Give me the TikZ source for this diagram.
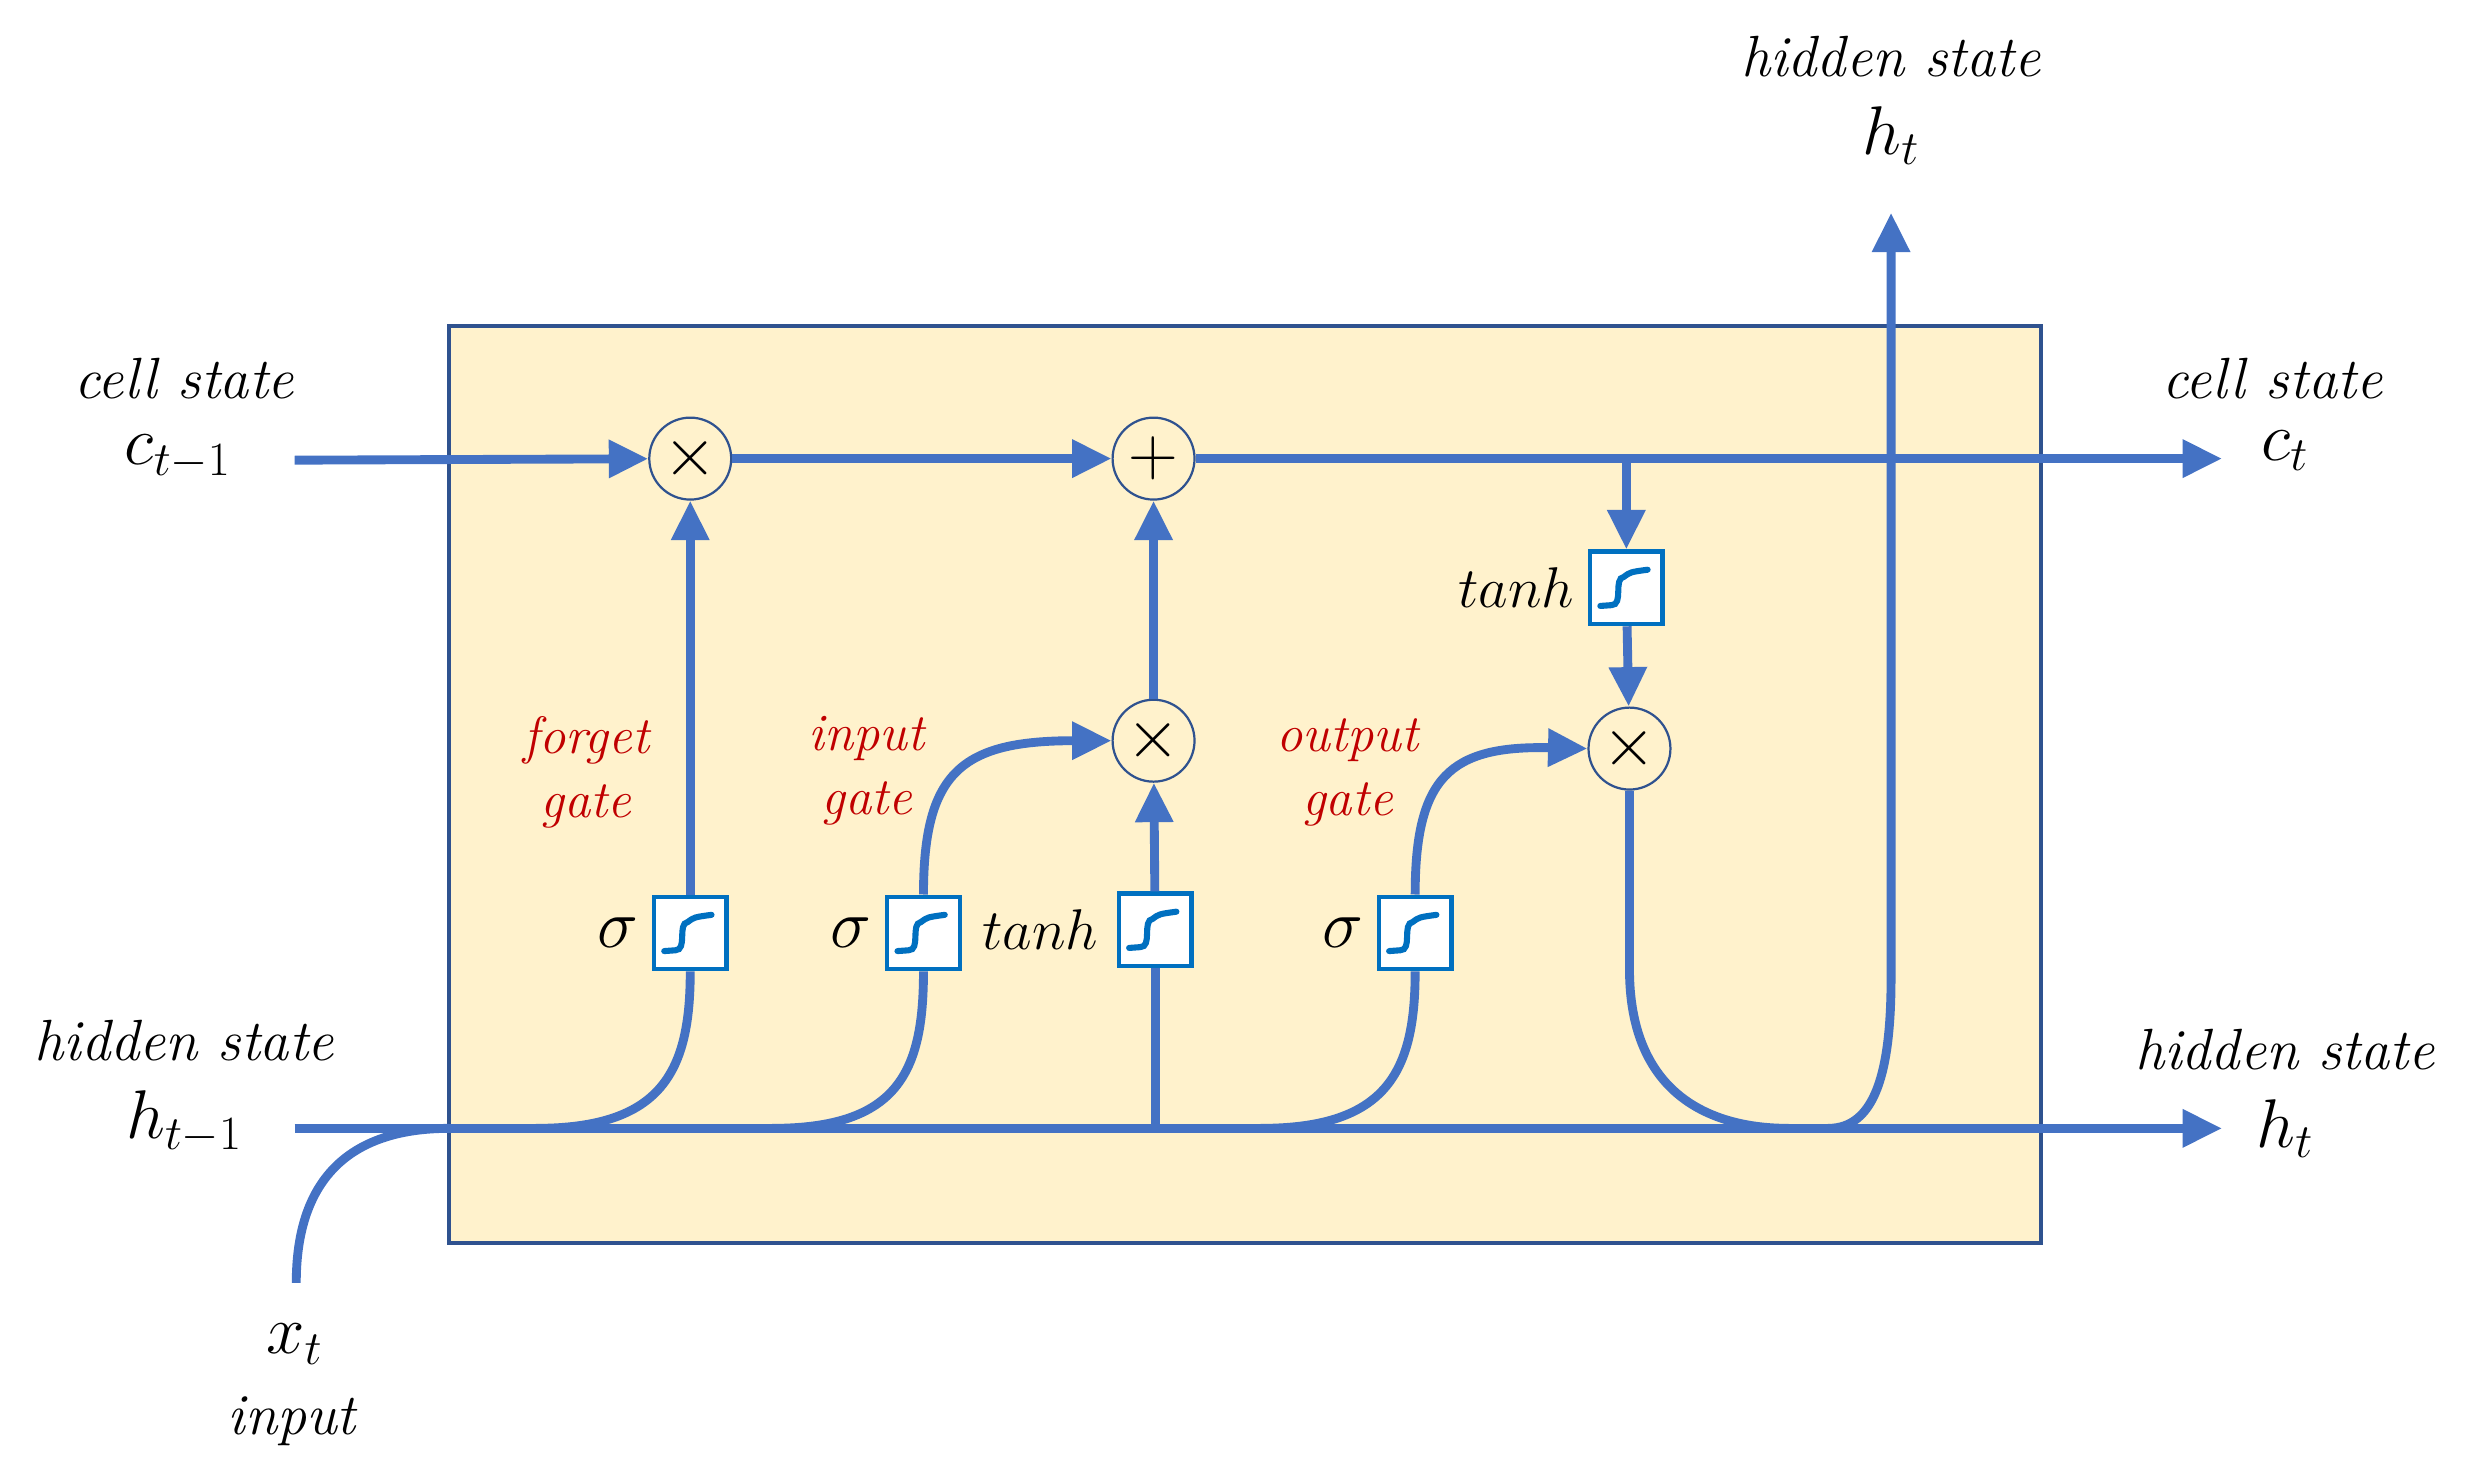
\documentclass[tikz,border=0pt]{standalone}
\usepackage{tikz}
\usetikzlibrary{arrows.meta}
\usetikzlibrary{positioning}
\definecolor{lstm}{RGB}{68,114,196}
\definecolor{cellbg}{RGB}{255,242,204}
\definecolor{cellframe}{RGB}{47,82,143}
\definecolor{actblue}{RGB}{0,112,192}
\definecolor{gatered}{RGB}{192,0,0}
\begin{document}
\begin{tikzpicture}[x={(0.02cm,0)}, y={(0,-0.02cm)},
                every node/.style = {font=\fontsize{20}{24}\selectfont},
                op/.style = {draw=cellframe, thick, circle, fill=cellbg, inner sep = 0mm, minimum size = 10.4mm, font=\fontsize{30}{30}\selectfont},
                act/.style = {draw=actblue, line width=1.6pt, fill=white, minimum size = 9.2mm, inner sep = 0mm,
                    path picture={\draw[actblue, line width=2.2pt, line cap=round]
                        ([xshift=-3.3mm,yshift=-2.3mm]path picture bounding box.center) -- ++(1.4mm,0.1mm)
                        .. controls +(1.6mm,0) and +(-1.4mm,-0.2mm) .. ++(1.6mm,3.6mm)
                        .. controls +(0.8mm,0.6mm) .. ++(3mm,0.9mm);}},
                arr/.style = {draw=lstm, line width=3.2pt, -{Triangle[length=5mm,width=4.6mm]}},
                ln/.style = {draw=lstm, line width=3.2pt},
                lbl/.style = {font=\fontsize{21}{24}\selectfont\itshape},
                var/.style = {font=\fontsize{25}{28}\selectfont},
                fn/.style = {font=\fontsize{22}{26}\selectfont},
                gate/.style = {font=\fontsize{19}{23}\selectfont\itshape, text=gatered, align=center},
            ]
            \useasboundingbox (0,0) rectangle (1568,938);
            \draw[cellframe, line width=1.4pt, fill=cellbg] (285,207) rectangle (1295,789);

            % operations
            \node (m1) [op] at (438,291){$\times$};
            \node (pl) [op] at (732,291){$+$};
            \node (m2) [op] at (732,470){$\times$};
            \node (m3) [op] at (1034,475){$\times$};

            % activations
            \node (sf) [act] at (438,592){};
            \node (si) [act] at (586,592){};
            \node (ti) [act] at (733,590){};
            \node (so) [act] at (898,592){};
            \node (tc) [act] at (1032,373){};

            % free ends
            \coordinate (cin) at (187,292);
            \coordinate (cout) at (1410,291);
            \coordinate (hin) at (187,716);
            \coordinate (hout) at (1410,716);
            \coordinate (xin) at (188,814);
            \coordinate (hup) at (1200,135);
            \coordinate (cb) at (1032,291);

            % cell state line
            \path[arr] (cin) -- (m1);
            \path[arr] (m1) -- (pl);
            \path[arr] (pl) -- (cout);
            \path[arr] (cb) -- (tc);
            \path[arr] (tc) -- (m3);

            % hidden state line
            \path[arr] (hin) -- (hout);
            \path[ln] (xin) .. controls (188,750) and (220,716) .. (285,716);
            \path[ln] (340,716) .. controls (420,716) and (438,680) .. (sf.south);
            \path[arr] (sf) -- (m1);
            \path[ln] (490,716) .. controls (570,716) and (586,680) .. (si.south);
            \path[arr] (si.north) .. controls (586,490) and (610,470) .. (m2.west);
            \path[ln] (733,716) -- (ti);
            \path[arr] (ti) -- (m2);
            \path[arr] (m2) -- (pl);
            \path[ln] (800,716) .. controls (880,716) and (898,680) .. (so.south);
            \path[arr] (so.north) .. controls (898,493) and (920,473) .. (m3.west);
            \path[ln] (m3) -- (1034,615) .. controls (1034,690) and (1080,716) .. (1135,716);
            \path[arr] (1160,716) .. controls (1190,716) and (1200,680) .. (1200,620) -- (hup);

            % labels
            \node (lc0) [lbl] at (117,240){cell state};
            \node (c0) [var] at (113,290){$c_{t-1}$};
            \node (lc1) [lbl] at (1442,240){cell state};
            \node (c1) [var] at (1450,286){$c_{t}$};
            \node (lh0) [lbl] at (117,660){hidden state};
            \node (h0) [var] at (117,712){$h_{t-1}$};
            \node (lh1) [lbl] at (1450,666){hidden state};
            \node (h1) [var] at (1450,716){$h_{t}$};
            \node (lh2) [lbl] at (1200,36){hidden state};
            \node (h2) [var] at (1200,86){$h_{t}$};
            \node (x0) [var] at (187,853){$x_{t}$};
            \node (lx0) [lbl] at (185,902){input};

            \node (gf) [gate] at (372,490){forget\\gate};
            \node (gi) [gate] at (550,489){input\\gate};
            \node (go) [gate] at (855,490){output\\gate};

            \node [var, left=0.5mm of sf] {$\sigma$};
            \node [var, left=0.5mm of si] {$\sigma$};
            \node [var, left=0.5mm of so] {$\sigma$};
            \node [fn] at (660,590) {$tanh$};
            \node [fn, left=0.5mm of tc] {$tanh$};
        \end{tikzpicture}
\end{document}
